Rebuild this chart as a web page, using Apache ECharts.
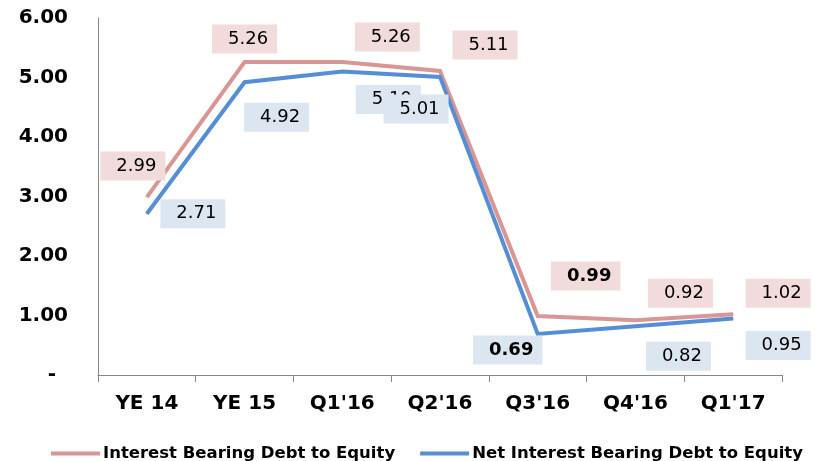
<!DOCTYPE html>
<html>
<head>
<meta charset="utf-8">
<script src="https://cdn.jsdelivr.net/npm/echarts@6/dist/echarts.min.js"></script>
<style>
  html, body { margin: 0; padding: 0; background: #fff; }
  #chart { width: 815px; height: 461px; }
</style>
</head>
<body>
<div id="chart"></div>
<script>
const categories = ['YE 14', 'YE 15', "Q1'16", "Q2'16", "Q3'16", "Q4'16", "Q1'17"]
const grossName = 'Interest Bearing Debt to Equity'
const netName = 'Net Interest Bearing Debt to Equity'
const grossValues = [2.99, 5.26, 5.26, 5.11, 0.99, 0.92, 1.02]
const netValues = [2.71, 4.92, 5.10, 5.01, 0.69, 0.82, 0.95]
const boldPoints = [4]

// label centre offsets from each point (px), as placed in the reference
const grossOffsets = [[-14, -31], [0, -23], [45, -25], [45, -26], [48, -40], [45, -27], [45, -21]]
const netOffsets = [[46, 0], [32, 35], [46, 28], [-24, 32], [-30, 16], [43, 30], [45, 27]]

const FONT = 'DejaVu Sans'

function buildData(values, bg) {
  return values.map((v, i) => ({
    value: v,
    label: {
      fontWeight: boldPoints.indexOf(i) >= 0 ? 'bold' : 'normal',
      backgroundColor: bg
    }
  }))
}

function makeSeries(name, values, offsets, color, bg) {
  return {
    name: name,
    type: 'line',
    symbol: 'circle',
    symbolSize: 1,
    lineStyle: { color: color, width: 4, join: 'miter' },
    itemStyle: { color: color },
    label: {
      show: true,
      position: 'inside',
      color: '#000',
      fontFamily: FONT,
      fontSize: 18,
      padding: [6, 9, 5, 16],
      formatter: p => p.value.toFixed(2)
    },
    labelLayout: p => ({
      dx: offsets[p.dataIndex][0],
      dy: offsets[p.dataIndex][1],
      hideOverlap: false
    }),
    data: buildData(values, bg)
  }
}

const chart = echarts.init(document.getElementById('chart'))
chart.setOption({
  animation: false,
  grid: { left: 98, right: 33, top: 18, bottom: 86 },
  legend: {
    top: 440,
    left: 46,
    itemWidth: 49,
    itemHeight: 4,
    itemGap: 25,
    icon: 'rect',
    textStyle: { fontFamily: FONT, fontWeight: 'bold', fontSize: 16.5, color: '#000', padding: [0, 0, 0, -2] },
    data: [grossName, netName]
  },
  xAxis: {
    type: 'category',
    data: categories,
    axisLine: { lineStyle: { color: '#868686' } },
    axisTick: { show: true, length: 7, lineStyle: { color: '#868686' } },
    axisLabel: { fontFamily: FONT, fontWeight: 'bold', fontSize: 20, color: '#000', margin: 19 }
  },
  yAxis: {
    type: 'value',
    min: 0,
    max: 6,
    interval: 1,
    splitLine: { show: false },
    axisLine: { show: true, lineStyle: { color: '#868686' } },
    axisTick: { show: false },
    axisLabel: {
      fontFamily: FONT,
      fontWeight: 'bold',
      fontSize: 20,
      color: '#000',
      margin: 30,
      formatter: v => v === 0 ? '{d|-}' : v.toFixed(2),
      rich: { d: { fontFamily: FONT, fontWeight: 'bold', fontSize: 20, color: '#000', padding: [0, 12, 0, 0] } }
    }
  },
  series: [
    makeSeries(grossName, grossValues, grossOffsets, '#d99694', '#f2dcdb'),
    makeSeries(netName, netValues, netOffsets, '#558ed5', '#dce6f1')
  ]
})
</script>
</body>
</html>
